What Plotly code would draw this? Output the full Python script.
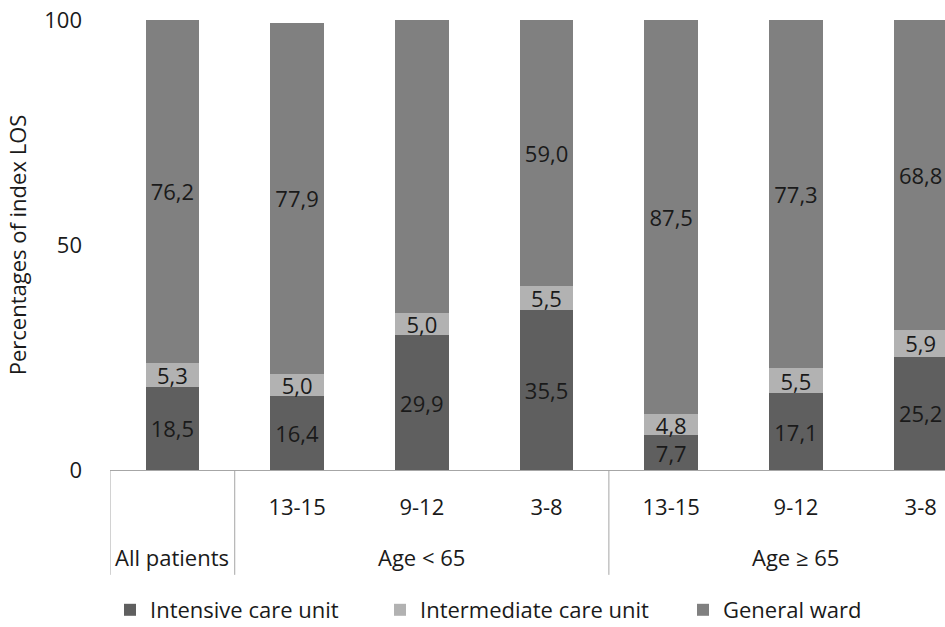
import plotly.graph_objects as go

# Share of index length of stay spent per ward type, by patient group
groups = ["All patients", "Age < 65", "Age < 65", "Age < 65", "Age ≥ 65", "Age ≥ 65", "Age ≥ 65"]
subgroups = ["", "13-15", "9-12", "3-8", "13-15", "9-12", "3-8"]
icu = [18.5, 16.4, 29.9, 35.5, 7.7, 17.1, 25.2]
imcu = [5.3, 5.0, 5.0, 5.5, 4.8, 5.5, 5.9]
ward = [76.2, 77.9, 65.2, 59.0, 87.5, 77.3, 68.8]
series_names = ["Intensive care unit", "Intermediate care unit", "General ward"]
y_ticks = [0, 50, 100]

colors = ["#5f5f5f", "#b2b2b2", "#808080"]
FONT = "Open Sans"
TXT = "#1a1a1a"
LINE = "#a6a6a6"
FS = 22

W, H = 945, 627
legend_left_px = [110, 380, 683]  # left edge of each legend entry
legend_mid_px = 610                # vertical centre of the legend row

x = list(range(len(groups)))
legend_ids = ["legend", "legend2", "legend3"]

fig = go.Figure()
for name, vals, col, lg in zip(series_names, [icu, imcu, ward], colors, legend_ids):
    fig.add_trace(go.Bar(
        x=x, y=vals, name=name, legend=lg,
        marker=dict(color=col, line=dict(width=0)),
        texttemplate="%{y:.1f}", textposition="inside",
        insidetextanchor="middle", textangle=0,
        textfont=dict(family=FONT, size=FS, color=TXT),
        cliponaxis=False,
    ))

# group labels centred under their bars, dividers between groups
shapes = []
annotations = []
start = 0
for i in range(1, len(groups) + 1):
    if i == len(groups) or groups[i] != groups[start]:
        annotations.append(dict(
            x=(start + i - 1) / 2, y=-0.193, xref="x", yref="paper",
            text=groups[start], showarrow=False, yanchor="middle",
            font=dict(family=FONT, size=FS, color=TXT),
        ))
        shapes.append(dict(
            type="line", xref="x", yref="paper",
            x0=start - 0.5, x1=start - 0.5, y0=0, y1=-0.233,
            line=dict(color=LINE, width=1),
        ))
        start = i

legend_style = dict(
    orientation="h", xref="container", yref="container",
    xanchor="left", yanchor="middle", y=(H - legend_mid_px) / H,
    font=dict(family=FONT, size=FS, color=TXT), bgcolor="rgba(0,0,0,0)",
)
legends = {
    lg: dict(legend_style, x=px / W)
    for lg, px in zip(legend_ids, legend_left_px)
}

fig.update_layout(
    width=W, height=H,
    margin=dict(l=110, r=0, t=20, b=157, autoexpand=False),
    barmode="stack", bargap=0.57,
    separators=",.",
    plot_bgcolor="white", paper_bgcolor="white",
    font=dict(family=FONT, size=FS, color=TXT),
    uniformtext=dict(minsize=FS, mode="show"),
    showlegend=True,
    xaxis=dict(
        range=[-0.5, 6.195], tickmode="array", tickvals=x, ticktext=subgroups,
        showgrid=False, zeroline=False, showline=True, linecolor=LINE, linewidth=1,
        ticks="", ticklabelstandoff=18,
        tickfont=dict(family=FONT, size=FS, color=TXT),
    ),
    yaxis=dict(
        range=[0, 100], tickvals=y_ticks, showgrid=False, zeroline=False,
        showline=False, ticks="", ticklabelstandoff=27,
        tickfont=dict(family=FONT, size=FS, color=TXT),
        title=dict(text="Percentages of index LOS", standoff=11,
                   font=dict(family=FONT, size=FS, color=TXT)),
    ),
    shapes=shapes,
    annotations=annotations,
    hovermode=False,
    **legends,
)

fig.write_html("out.html")
